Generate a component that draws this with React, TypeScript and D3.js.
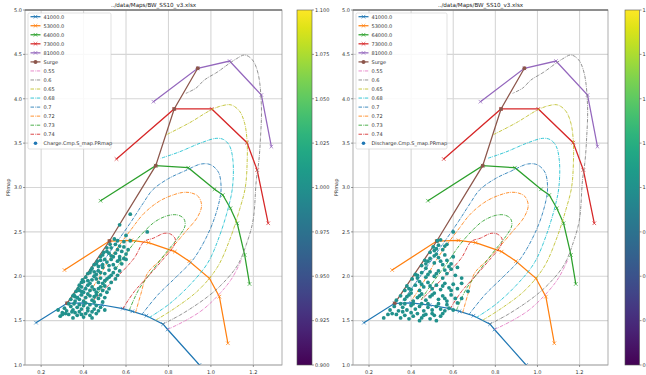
import React, { useRef, useEffect } from "react";
import * as d3 from "d3";

type Pt = [number, number];

const title = "../data/Maps/BW_SS10_v3.xlsx";

// speed lines (corrected speed)
const speedLabels = ["41000.0", "53000.0", "64000.0", "73000.0", "81000.0"];
const speed41000: Pt[] = [[0.176, 1.477], [0.322, 1.695], [0.40, 1.70], [0.488, 1.676], [0.585, 1.635], [0.63, 1.605], [0.696, 1.555], [0.775, 1.46], [0.796, 1.40], [0.946, 1.0], [1.0, 0.86]];
const speed53000: Pt[] = [[0.31, 2.07], [0.522, 2.397], [0.625, 2.405], [0.706, 2.378], [0.83, 2.277], [0.898, 2.17], [0.993, 1.977], [1.04, 1.77], [1.08, 1.245]];
const speed64000: Pt[] = [[0.48, 2.851], [0.74, 3.246], [0.893, 3.223], [1.017, 2.98], [1.056, 2.915], [1.092, 2.766], [1.124, 2.597], [1.159, 2.24], [1.182, 1.913]];
const speed73000: Pt[] = [[0.555, 3.321], [0.827, 3.885], [1.004, 3.885], [1.17, 3.505], [1.218, 3.197], [1.27, 2.597]];
const speed81000: Pt[] = [[0.729, 3.967], [0.938, 4.343], [1.088, 4.425], [1.238, 4.042], [1.285, 3.46]];
const speedLines = [speed41000, speed53000, speed64000, speed73000, speed81000];
const speedColors = ["#1f77b4", "#ff7f0e", "#2ca02c", "#d62728", "#9467bd"];

const surge: Pt[] = [[0.322, 1.695], [0.522, 2.397], [0.74, 3.246], [0.827, 3.885], [0.938, 4.343]];

// efficiency contours
const effLabels = ["0.55", "0.6", "0.65", "0.68", "0.7", "0.72", "0.73", "0.74"];
const effColors = ["#e377c2", "#7f7f7f", "#bcbd22", "#17becf", "#1f77b4", "#ff7f0e", "#2ca02c", "#d62728"];
const eff055: Pt[] = [[0.796, 1.40], [0.88, 1.50], [0.96, 1.62], [1.04, 1.80], [1.10, 1.98], [1.145, 2.19]];
const eff060: Pt[] = [[0.772, 1.46], [0.86, 1.57], [0.985, 1.77], [1.06, 1.93], [1.127, 2.13], [1.17, 2.38], [1.199, 2.634], [1.214, 3.085], [1.226, 3.3], [1.233, 3.535], [1.238, 3.91], [1.222, 4.287], [1.195, 4.44], [1.159, 4.493], [1.12, 4.45], [1.088, 4.4], [1.03, 4.3], [0.969, 4.211], [0.93, 4.12], [0.882, 4.061]];
const eff065: Pt[] = [[0.74, 1.505], [0.83, 1.64], [0.94, 1.84], [1.03, 2.1], [1.09, 2.42], [1.135, 2.75], [1.162, 3.0], [1.171, 3.3], [1.17, 3.535], [1.159, 3.723], [1.135, 3.86], [1.096, 3.93], [1.05, 3.92], [1.0, 3.873], [0.9, 3.73], [0.788, 3.592]];
const eff068: Pt[] = [[0.71, 1.535], [0.80, 1.68], [0.90, 1.90], [0.985, 2.15], [1.04, 2.45], [1.085, 2.8], [1.102, 3.009], [1.104, 3.3], [1.088, 3.47], [1.06, 3.54], [1.025, 3.554], [0.95, 3.50], [0.85, 3.40], [0.764, 3.329]];
const eff070: Pt[] = [[0.675, 1.57], [0.75, 1.79], [0.84, 2.0], [0.92, 2.2], [1.0, 2.55], [1.04, 2.85], [1.048, 3.0], [1.036, 3.17], [1.0, 3.255], [0.954, 3.265], [0.88, 3.19], [0.80, 3.10], [0.725, 2.972], [0.68, 2.82], [0.62, 2.6], [0.52, 2.26], [0.42, 1.92], [0.36, 1.72]];
const eff072: Pt[] = [[0.645, 1.59], [0.67, 1.80], [0.701, 2.033], [0.76, 2.18], [0.827, 2.352], [0.88, 2.5], [0.938, 2.671], [0.956, 2.80], [0.94, 2.90], [0.906, 2.94], [0.87, 2.945], [0.827, 2.92], [0.76, 2.85], [0.685, 2.709], [0.622, 2.52], [0.53, 2.22], [0.45, 1.9], [0.40, 1.72]];
const eff073: Pt[] = [[0.615, 1.615], [0.66, 1.85], [0.72, 2.05], [0.79, 2.27], [0.85, 2.45], [0.878, 2.57], [0.872, 2.65], [0.843, 2.69], [0.80, 2.685], [0.74, 2.62], [0.685, 2.502], [0.63, 2.35], [0.559, 2.108], [0.50, 1.92], [0.446, 1.73]];
const eff074: Pt[] = [[0.585, 1.635], [0.64, 1.83], [0.717, 2.033], [0.785, 2.22], [0.823, 2.33], [0.832, 2.42], [0.81, 2.475], [0.78, 2.484], [0.73, 2.43], [0.685, 2.39], [0.637, 2.2], [0.511, 1.882], [0.448, 1.732]];
const effLines = [eff055, eff060, eff065, eff068, eff070, eff072, eff073, eff074];

// measured operating points
const chargePts: Pt[] = [
  [0.29, 1.55], [0.30, 1.59], [0.33, 1.57], [0.35, 1.53], [0.37, 1.56], [0.38, 1.60], [0.40, 1.54], [0.41, 1.58], [0.43, 1.56], [0.44, 1.60], [0.46, 1.58], [0.36, 1.59],
  [0.28, 1.62], [0.31, 1.64], [0.32, 1.61], [0.34, 1.66], [0.35, 1.62], [0.37, 1.65], [0.39, 1.63], [0.40, 1.67], [0.42, 1.64], [0.43, 1.68], [0.45, 1.63], [0.46, 1.67], [0.48, 1.65], [0.38, 1.68], [0.33, 1.69], [0.50, 1.62],
  [0.34, 1.74], [0.35, 1.78], [0.36, 1.72], [0.36, 1.77], [0.38, 1.74], [0.39, 1.79], [0.40, 1.72], [0.41, 1.76], [0.42, 1.80], [0.44, 1.73], [0.45, 1.77], [0.47, 1.75], [0.48, 1.79], [0.50, 1.76], [0.355, 1.79],
  [0.365, 1.83], [0.375, 1.86], [0.38, 1.84], [0.39, 1.88], [0.40, 1.82], [0.41, 1.86], [0.42, 1.90], [0.43, 1.84], [0.44, 1.88], [0.46, 1.82], [0.47, 1.86], [0.49, 1.84], [0.50, 1.89], [0.52, 1.86], [0.38, 1.90],
  [0.39, 1.93], [0.395, 1.96], [0.40, 1.94], [0.41, 1.99], [0.43, 1.92], [0.44, 1.96], [0.45, 2.00], [0.47, 1.93], [0.48, 1.98], [0.50, 1.95], [0.52, 1.99], [0.53, 1.93], [0.55, 1.97],
  [0.42, 2.03], [0.435, 2.07], [0.43, 2.04], [0.44, 2.09], [0.46, 2.02], [0.47, 2.06], [0.49, 2.10], [0.50, 2.03], [0.52, 2.07], [0.54, 2.04], [0.55, 2.09], [0.57, 2.06],
  [0.45, 2.13], [0.465, 2.17], [0.46, 2.14], [0.48, 2.18], [0.49, 2.13], [0.51, 2.16], [0.53, 2.19], [0.54, 2.13], [0.56, 2.17], [0.58, 2.14], [0.59, 2.20],
  [0.48, 2.22], [0.495, 2.27], [0.49, 2.24], [0.51, 2.28], [0.53, 2.23], [0.55, 2.26], [0.57, 2.22], [0.58, 2.28], [0.60, 2.25], [0.61, 2.30],
  [0.51, 2.32], [0.525, 2.36], [0.53, 2.32], [0.55, 2.36], [0.57, 2.34], [0.59, 2.39], [0.62, 2.40], [0.545, 2.42],
  [0.57, 2.58], [0.62, 2.70], [0.70, 2.50], [0.60, 2.46],
  [0.315, 1.58], [0.345, 1.60], [0.39, 1.57], [0.42, 1.61], [0.47, 1.61], [0.355, 1.69], [0.41, 1.70], [0.45, 1.71], [0.49, 1.71],
  [0.37, 1.76], [0.43, 1.78], [0.46, 1.79], [0.39, 1.83], [0.45, 1.85], [0.48, 1.88], [0.51, 1.82], [0.42, 1.95], [0.46, 1.97],
  [0.49, 1.92], [0.51, 1.97], [0.45, 2.05], [0.48, 2.04], [0.53, 2.01], [0.56, 2.01], [0.47, 2.11], [0.50, 2.19], [0.52, 2.12],
  [0.57, 2.19], [0.52, 2.26], [0.56, 2.30], [0.59, 2.33], [0.56, 2.40], [0.54, 2.22], [0.60, 2.19], [0.30, 1.57], [0.44, 1.53],
];
const dischargePts: Pt[] = [
  [0.27, 1.53], [0.33, 1.57], [0.35, 1.53], [0.37, 1.56], [0.39, 1.52], [0.41, 1.55], [0.43, 1.58], [0.45, 1.53], [0.47, 1.57], [0.49, 1.52], [0.51, 1.56], [0.52, 1.50], [0.54, 1.55], [0.44, 1.50],
  [0.30, 1.62], [0.32, 1.66], [0.34, 1.61], [0.36, 1.65], [0.38, 1.62], [0.40, 1.67], [0.42, 1.63], [0.44, 1.66], [0.46, 1.61], [0.48, 1.65], [0.50, 1.62], [0.52, 1.66], [0.54, 1.63], [0.56, 1.61], [0.58, 1.64], [0.60, 1.62], [0.37, 1.69], [0.45, 1.69],
  [0.33, 1.73], [0.35, 1.78], [0.37, 1.74], [0.39, 1.79], [0.41, 1.72], [0.43, 1.76], [0.45, 1.80], [0.47, 1.73], [0.49, 1.77], [0.51, 1.81], [0.53, 1.74], [0.55, 1.78], [0.57, 1.72], [0.59, 1.79], [0.61, 1.75], [0.64, 1.75], [0.40, 1.81],
  [0.37, 1.84], [0.38, 1.89], [0.40, 1.85], [0.42, 1.90], [0.44, 1.84], [0.46, 1.88], [0.48, 1.93], [0.50, 1.86], [0.52, 1.90], [0.54, 1.85], [0.56, 1.92], [0.58, 1.87], [0.60, 1.91], [0.62, 1.86], [0.67, 1.83], [0.44, 1.94],
  [0.405, 1.97], [0.42, 2.02], [0.43, 1.98], [0.45, 2.04], [0.47, 1.99], [0.49, 2.05], [0.51, 2.00], [0.53, 2.06], [0.55, 1.98], [0.57, 2.03], [0.59, 2.08], [0.61, 2.01], [0.64, 1.98], [0.62, 2.10], [0.47, 2.09],
  [0.45, 2.12], [0.465, 2.18], [0.47, 2.14], [0.49, 2.20], [0.51, 2.15], [0.53, 2.21], [0.55, 2.13], [0.57, 2.18], [0.59, 2.14], [0.60, 2.22], [0.52, 2.25],
  [0.49, 2.27], [0.505, 2.33], [0.51, 2.29], [0.53, 2.35], [0.55, 2.30], [0.57, 2.36], [0.54, 2.41], [0.525, 2.40],
  [0.60, 2.50],
  [0.31, 1.58], [0.36, 1.60], [0.40, 1.59], [0.46, 1.56], [0.50, 1.58], [0.55, 1.58], [0.35, 1.69], [0.41, 1.69], [0.48, 1.69],
  [0.53, 1.69], [0.57, 1.68], [0.38, 1.77], [0.44, 1.78], [0.50, 1.79], [0.56, 1.75], [0.39, 1.86], [0.45, 1.91], [0.49, 1.89],
  [0.55, 1.89], [0.59, 1.84], [0.43, 2.01], [0.48, 2.02], [0.52, 2.03], [0.56, 2.07], [0.48, 2.17], [0.54, 2.17], [0.58, 2.11],
  [0.51, 2.23], [0.56, 2.24], [0.52, 2.31], [0.56, 2.34], [0.62, 1.70], [0.64, 1.92], [0.29, 1.57],
];

const xTicks = [0.2, 0.4, 0.6, 0.8, 1.0, 1.2];
const yTicks = [1.0, 1.5, 2.0, 2.5, 3.0, 3.5, 4.0, 4.5, 5.0];
const cbTicks = [0.9, 0.925, 0.95, 0.975, 1.0, 1.025, 1.05, 1.075, 1.1];

const panels = [
  { x0: 25, x1: 282, cb0: 297, cb1: 312, name: "Charge.Cmp.S_map.PRmap", pts: chargePts, legendW: 83 },
  { x0: 353, x1: 608, cb0: 625, cb1: 639.5, name: "Discharge.Cmp.S_map.PRmap", pts: dischargePts, legendW: 91 },
];

const font = "DejaVu Sans, sans-serif";

const App = () => {
  const ref = useRef<SVGSVGElement | null>(null);

  useEffect(() => {
    const svg = d3.select(ref.current);
    svg.selectAll("*").remove();
    const top = 10;
    const bottom = 365;

    const defs = svg.append("defs");
    const grad = defs.append("linearGradient").attr("id", "viridis")
      .attr("x1", 0).attr("y1", 1).attr("x2", 0).attr("y2", 0);
    d3.range(0, 1.0001, 0.05).forEach((t) => {
      grad.append("stop").attr("offset", t).attr("stop-color", d3.interpolateViridis(t));
    });

    const scatterColor = d3.interpolateViridis(0.5);

    panels.forEach((p, i) => {
      const x = d3.scaleLinear().domain([0.124, 1.335]).range([p.x0, p.x1]);
      const y = d3.scaleLinear().domain([1, 5]).range([bottom, top]);
      const g = svg.append("g");

      defs.append("clipPath").attr("id", `clip${i}`)
        .append("rect").attr("x", p.x0).attr("y", top)
        .attr("width", p.x1 - p.x0).attr("height", bottom - top);

      // grid
      g.selectAll(".gx").data(xTicks).join("line")
        .attr("x1", (d) => x(d)).attr("x2", (d) => x(d))
        .attr("y1", top).attr("y2", bottom)
        .attr("stroke", "#d6d6d6").attr("stroke-width", 1.1);
      g.selectAll(".gy").data(yTicks).join("line")
        .attr("x1", p.x0).attr("x2", p.x1)
        .attr("y1", (d) => y(d)).attr("y2", (d) => y(d))
        .attr("stroke", "#d6d6d6").attr("stroke-width", 1.1);

      const plot = g.append("g").attr("clip-path", `url(#clip${i})`);

      const straight = d3.line<Pt>().x((d) => x(d[0])).y((d) => y(d[1]));
      const smooth = d3.line<Pt>().curve(d3.curveCatmullRom.alpha(0.5))
        .x((d) => x(d[0])).y((d) => y(d[1]));

      // speed lines with x markers
      speedLines.forEach((line, k) => {
        plot.append("path").attr("d", straight(line)!)
          .attr("fill", "none").attr("stroke", speedColors[k]).attr("stroke-width", 1.25);
        const s = 1.8;
        plot.append("g").selectAll("path").data(line).join("path")
          .attr("d", (d) => {
            const cx = x(d[0]), cy = y(d[1]);
            return `M${cx - s},${cy - s}L${cx + s},${cy + s}M${cx - s},${cy + s}L${cx + s},${cy - s}`;
          })
          .attr("stroke", speedColors[k]).attr("stroke-width", 0.7);
      });

      // surge line
      plot.append("path").attr("d", straight(surge)!)
        .attr("fill", "none").attr("stroke", "#8c564b").attr("stroke-width", 1.25);
      plot.append("g").selectAll("circle").data(surge).join("circle")
        .attr("cx", (d) => x(d[0])).attr("cy", (d) => y(d[1])).attr("r", 2)
        .attr("fill", "#8c564b");

      // efficiency contours
      effLines.forEach((line, k) => {
        plot.append("path").attr("d", smooth(line)!)
          .attr("fill", "none").attr("stroke", effColors[k]).attr("stroke-width", 0.85)
          .attr("stroke-dasharray", "3.5,1,0.7,1");
      });

      // scatter
      plot.append("g").selectAll("circle").data(p.pts).join("circle")
        .attr("cx", (d) => x(d[0])).attr("cy", (d) => y(d[1])).attr("r", 1.9)
        .attr("fill", scatterColor);

      // spines
      g.append("rect").attr("x", p.x0).attr("y", top)
        .attr("width", p.x1 - p.x0).attr("height", bottom - top)
        .attr("fill", "none").attr("stroke", "#999").attr("stroke-width", 0.8);
      g.append("line").attr("x1", p.x0).attr("x2", p.x1).attr("y1", top).attr("y2", top)
        .attr("stroke", "#555").attr("stroke-width", 1);

      // ticks
      g.selectAll(".ty").data(yTicks).join("text")
        .attr("x", p.x0 - 3).attr("y", (d) => y(d) + 1.8)
        .attr("text-anchor", "end").attr("font-size", 5).attr("font-family", font)
        .attr("fill", "#333").text((d) => d.toFixed(1));
      g.selectAll(".tyl").data(yTicks).join("line")
        .attr("x1", p.x0 - 2).attr("x2", p.x0).attr("y1", (d) => y(d)).attr("y2", (d) => y(d))
        .attr("stroke", "#555").attr("stroke-width", 0.6);
      g.selectAll(".tx").data(xTicks).join("text")
        .attr("x", (d) => x(d)).attr("y", bottom + 8.5)
        .attr("text-anchor", "middle").attr("font-size", 5).attr("font-family", font)
        .attr("fill", "#333").text((d) => d.toFixed(1));
      g.selectAll(".txl").data(xTicks).join("line")
        .attr("x1", (d) => x(d)).attr("x2", (d) => x(d)).attr("y1", bottom).attr("y2", bottom + 2)
        .attr("stroke", "#555").attr("stroke-width", 0.6);

      // title and y label
      g.append("text").attr("x", (p.x0 + p.x1) / 2).attr("y", 7.3)
        .attr("text-anchor", "middle").attr("font-size", 5.6).attr("font-family", font)
        .attr("fill", "#222").text(title);
      g.append("text")
        .attr("transform", `translate(${p.x0 - 15.5},${(top + bottom) / 2}) rotate(-90)`)
        .attr("text-anchor", "middle").attr("font-size", 5).attr("font-family", font)
        .attr("fill", "#333").text("PRmap");

      // legend
      const entries = [
        ...speedLabels.map((l, k) => ({ label: l, color: speedColors[k], kind: "speed" })),
        { label: "Surge", color: "#8c564b", kind: "surge" },
        ...effLabels.map((l, k) => ({ label: l, color: effColors[k], kind: "eff" })),
        { label: p.name, color: "#1f77b4", kind: "scatter" },
      ];
      const lx = p.x0 + 3;
      const ly = 13;
      const rowH = 9.04;
      const leg = g.append("g");
      leg.append("rect").attr("x", lx).attr("y", ly)
        .attr("width", p.legendW).attr("height", 136).attr("rx", 1.5)
        .attr("fill", "white").attr("fill-opacity", 0.85)
        .attr("stroke", "#ccc").attr("stroke-width", 0.6);
      entries.forEach((e, k) => {
        const cy = ly + 3.7 + k * rowH;
        const hx0 = lx + 2.5, hx1 = lx + 12.5, hc = (hx0 + hx1) / 2;
        if (e.kind === "scatter") {
          leg.append("circle").attr("cx", hc).attr("cy", cy).attr("r", 1.8).attr("fill", e.color);
        } else {
          const ln = leg.append("line").attr("x1", hx0).attr("x2", hx1).attr("y1", cy).attr("y2", cy)
            .attr("stroke", e.color).attr("stroke-width", e.kind === "eff" ? 0.85 : 1.25);
          if (e.kind === "eff") ln.attr("stroke-dasharray", "3.5,1,0.7,1");
          if (e.kind === "speed") {
            const s = 1.8;
            leg.append("path")
              .attr("d", `M${hc - s},${cy - s}L${hc + s},${cy + s}M${hc - s},${cy + s}L${hc + s},${cy - s}`)
              .attr("stroke", e.color).attr("stroke-width", 0.7);
          }
          if (e.kind === "surge") {
            leg.append("circle").attr("cx", hc).attr("cy", cy).attr("r", 2).attr("fill", e.color);
          }
        }
        leg.append("text").attr("x", lx + 15.5).attr("y", cy + 1.8)
          .attr("font-size", 5).attr("font-family", font).attr("fill", "#333").text(e.label);
      });

      // colorbar
      const cy = d3.scaleLinear().domain([0.9, 1.1]).range([bottom, top]);
      g.append("rect").attr("x", p.cb0).attr("y", top)
        .attr("width", p.cb1 - p.cb0).attr("height", bottom - top)
        .attr("fill", "url(#viridis)").attr("stroke", "#555").attr("stroke-width", 0.6);
      g.selectAll(".cbt").data(cbTicks).join("line")
        .attr("x1", p.cb1).attr("x2", p.cb1 + 2).attr("y1", (d) => cy(d)).attr("y2", (d) => cy(d))
        .attr("stroke", "#555").attr("stroke-width", 0.6);
      g.selectAll(".cbl").data(cbTicks).join("text")
        .attr("x", p.cb1 + 3).attr("y", (d) => cy(d) + 1.8)
        .attr("font-size", 5).attr("font-family", font).attr("fill", "#333")
        .text((d) => d.toFixed(3));
    });
  }, []);

  return (
    <div style={{ position: "fixed", left: 0, top: 0, width: 646, height: 375, background: "white" }}>
      <svg ref={ref} width={646} height={375} viewBox="0 0 646 375" />
    </div>
  );
};

export default App;
